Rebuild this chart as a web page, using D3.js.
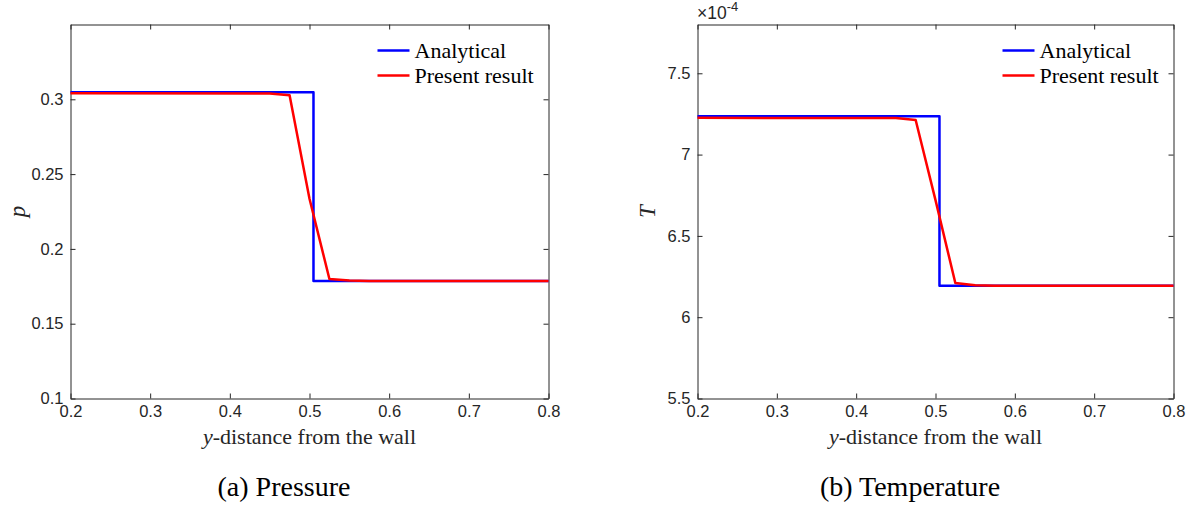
<!DOCTYPE html>
<html>
<head>
<meta charset="utf-8">
<script src="https://cdn.jsdelivr.net/npm/d3@7"></script>
<style>
  html, body { margin: 0; padding: 0; background: #fff; }
  svg { display: block; }
  .tick text { font-family: "Liberation Sans", Arial, sans-serif; font-size: 16.5px; fill: #262626; }
</style>
</head>
<body>
<svg id="fig" width="1195" height="505"></svg>
<script>
// Shock-tube profiles along the wall-normal direction
const xTicks = [0.2, 0.3, 0.4, 0.5, 0.6, 0.7, 0.8];

// Analytical solution: piecewise constant with a jump at the shock
const exactX = [0.2, 0.505, 0.505, 0.8];
const exactPressure = [0.3047, 0.3047, 0.1785, 0.1785];
const exactTemperature = [7.235e-4, 7.235e-4, 6.193e-4, 6.193e-4];

// Numerical result
const simX = [0.2, 0.45, 0.475, 0.5, 0.525, 0.55, 0.575, 0.8];
const simPressure = [0.3040, 0.3038, 0.3027, 0.2335, 0.1799, 0.1789, 0.1786, 0.1785];
const simTemperature = [7.226e-4, 7.225e-4, 7.213e-4, 6.72e-4, 6.21e-4, 6.197e-4, 6.194e-4, 6.193e-4];

const pressureTicks = [0.1, 0.15, 0.2, 0.25, 0.3];
const temperatureTicks = [5.5e-4, 6e-4, 6.5e-4, 7e-4, 7.5e-4];

const legendLabels = ["Analytical", "Present result"];
const colors = ["#0000ff", "#ff0000"];

const svg = d3.select("#fig");
const axisColor = "#262626";

function panel(opt) {
  const x = d3.scaleLinear().domain([0.2, 0.8]).range([opt.left, opt.right]);
  const y = d3.scaleLinear().domain(opt.yDomain).range([opt.bottom, opt.top]);
  const g = svg.append("g");

  const styleAxis = sel => {
    sel.select(".domain").attr("stroke", axisColor).attr("stroke-width", 1);
    sel.selectAll(".tick line").attr("stroke", axisColor).attr("stroke-width", 1);
  };

  g.append("g").attr("transform", `translate(0,${opt.bottom})`)
    .call(d3.axisBottom(x).tickValues(xTicks).tickSize(-5).tickSizeOuter(0).tickPadding(7).tickFormat(d3.format(".1f")))
    .call(styleAxis);
  g.append("g").attr("transform", `translate(0,${opt.top})`)
    .call(d3.axisTop(x).tickValues(xTicks).tickSize(-5).tickSizeOuter(0).tickFormat(""))
    .call(styleAxis);
  g.append("g").attr("transform", `translate(${opt.left},0)`)
    .call(d3.axisLeft(y).tickValues(opt.yTicks).tickSize(-5).tickSizeOuter(0).tickPadding(7).tickFormat(opt.yFormat))
    .call(styleAxis);
  g.append("g").attr("transform", `translate(${opt.right},0)`)
    .call(d3.axisRight(y).tickValues(opt.yTicks).tickSize(-5).tickSizeOuter(0).tickFormat(""))
    .call(styleAxis);

  const line = d3.line().x(d => x(d[0])).y(d => y(d[1]));
  const series = [d3.zip(exactX, opt.exact), d3.zip(simX, opt.sim)];
  series.forEach((s, i) => {
    g.append("path").datum(s).attr("d", line)
      .attr("fill", "none").attr("stroke", colors[i]).attr("stroke-width", 2.5)
      .attr("stroke-linejoin", "round");
  });

  // legend (no frame)
  legendLabels.forEach((lab, i) => {
    const ly = opt.top + 26 + i * 25;
    g.append("line").attr("x1", opt.right - 171).attr("x2", opt.right - 139)
      .attr("y1", ly).attr("y2", ly).attr("stroke", colors[i]).attr("stroke-width", 2.5);
    g.append("text").attr("x", opt.right - 134).attr("y", ly + 7)
      .attr("font-family", "'Liberation Serif', 'Times New Roman', serif")
      .attr("font-size", 22).attr("fill", "#000").text(lab);
  });

  // x-axis title: italic math y followed by upright text
  const xt = g.append("text").attr("x", (opt.left + opt.right) / 2).attr("y", 444)
    .attr("text-anchor", "middle")
    .attr("font-family", "'Liberation Serif', 'Times New Roman', serif")
    .attr("font-size", 22).attr("fill", "#262626");
  xt.append("tspan").attr("font-style", "italic").text("y");
  xt.append("tspan").text("-distance from the wall");

  // y-axis title
  g.append("text").attr("transform", `translate(${opt.yLabelX},${(opt.top + opt.bottom) / 2}) rotate(-90)`)
    .attr("text-anchor", "middle")
    .attr("font-family", "'Liberation Serif', 'Times New Roman', serif")
    .attr("font-style", "italic").attr("font-size", 23).attr("fill", "#262626")
    .text(opt.yLabel);

  // caption
  g.append("text").attr("x", opt.captionX).attr("y", 496).attr("text-anchor", "middle")
    .attr("font-family", "'Liberation Serif', 'Times New Roman', serif")
    .attr("font-size", 28).attr("fill", "#000").text(opt.caption);

  return { x, y, g };
}

panel({
  left: 70.5, right: 548.5, top: 24.5, bottom: 398.5,
  yDomain: [0.1, 0.35], yTicks: pressureTicks, yFormat: d => String(d),
  exact: exactPressure, sim: simPressure,
  yLabel: "p", yLabelX: 25, caption: "(a) Pressure", captionX: 284
});

const b = panel({
  left: 697.5, right: 1173.5, top: 24.5, bottom: 398.5,
  yDomain: [5.5e-4, 7.8e-4], yTicks: temperatureTicks, yFormat: d => String(+(d * 1e4).toFixed(1)),
  exact: exactTemperature, sim: simTemperature,
  yLabel: "T", yLabelX: 655, caption: "(b) Temperature", captionX: 910
});

// exponent multiplier above the temperature axis
const ex = b.g.append("text").attr("x", 697).attr("y", 19)
  .attr("font-family", "'Liberation Sans', Arial, sans-serif").attr("font-size", 17.5).attr("fill", "#262626");
ex.append("tspan").text("\u00d710");
ex.append("tspan").attr("dy", -8).attr("font-size", 13).text("-4");
</script>
</body>
</html>
